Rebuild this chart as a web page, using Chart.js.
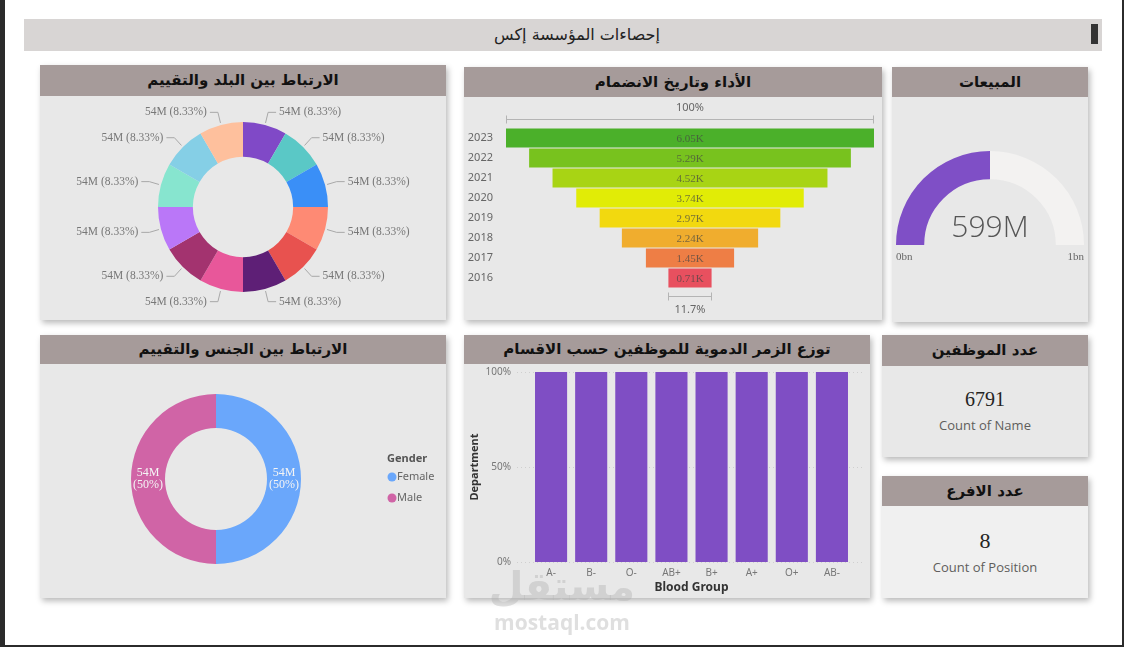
<!DOCTYPE html>
<html>
<head>
<meta charset="utf-8">
<script src="https://cdn.jsdelivr.net/npm/chart.js@4.4.0/dist/chart.umd.min.js"></script>
<style>
html, body { margin: 0; padding: 0; }
body { width: 1126px; height: 647px; position: relative; overflow: hidden; background: #fff; font-family: "DejaVu Sans", sans-serif; }
.frame { position: absolute; left: 0; top: 0; width: 1117px; height: 645px; border-left: 5px solid #2b2b2b; border-right: 2px solid #2b2b2b; border-bottom: 2px solid #2b2b2b; }
.titlebar { position: absolute; left: 24px; top: 19px; width: 1078px; height: 32px; background: #d8d5d4; }
.titlebar .txt { position: absolute; left: 14px; width: 1078px; text-align: center; line-height: 32px; font-size: 16px; color: #222; direction: rtl; }
.titlebar .mark { position: absolute; left: 1067px; top: 5px; width: 7px; height: 20px; background: #333; }
.panel { position: absolute; background: #e8e8e8; box-shadow: 2px 3px 6px rgba(0,0,0,0.28); }
.head { background: #a69b9a; text-align: center; font-weight: bold; font-size: 15px; color: #111; direction: rtl; }
canvas { display: block; }
.big { text-align: center; font-family: "Liberation Serif", serif; color: #252423; }
.sub { text-align: center; font-family: "Open Sans", sans-serif; font-size: 13px; color: #605e5c; }
.wm { position: absolute; left: 462px; width: 200px; text-align: center; color: rgba(175,175,175,0.4); font-weight: bold; z-index: 5; }
</style>
</head>
<body>
<div class="frame"></div>
<div class="titlebar"><div class="txt">إحصاءات المؤسسة إكس</div><div class="mark"></div></div>

<div class="panel" style="left:40px;top:65px;width:406px;height:255px">
  <div class="head" style="height:31px;line-height:31px">الارتباط بين البلد والتقييم</div>
  <canvas id="countryChart" width="406" height="224"></canvas>
</div>

<div class="panel" style="left:464px;top:67px;width:418px;height:253px">
  <div class="head" style="height:30px;line-height:30px">الأداء وتاريخ الانضمام</div>
  <canvas id="funnelChart" width="418" height="223"></canvas>
</div>

<div class="panel" style="left:892px;top:67px;width:196px;height:255px">
  <div class="head" style="height:30px;line-height:30px">المبيعات</div>
  <canvas id="salesChart" width="196" height="225"></canvas>
</div>

<div class="panel" style="left:40px;top:335px;width:406px;height:263px">
  <div class="head" style="height:29px;line-height:29px">الارتباط بين الجنس والتقييم</div>
  <canvas id="genderChart" width="406" height="234"></canvas>
</div>

<div class="panel" style="left:464px;top:335px;width:406px;height:263px">
  <div class="head" style="height:29px;line-height:29px">توزع الزمر الدموية للموظفين حسب الاقسام</div>
  <canvas id="bloodChart" width="406" height="234"></canvas>
</div>

<div class="panel" style="left:882px;top:335px;width:206px;height:122px">
  <div class="head" style="height:31px;line-height:31px">عدد الموظفين</div>
  <div class="big" id="employeeCount" style="font-size:20px;margin-top:22px">0</div>
  <div class="sub" style="margin-top:5px">Count of Name</div>
</div>

<div class="panel" style="left:882px;top:476px;width:206px;height:122px;background:#f0f0f0">
  <div class="head" style="height:30px;line-height:30px">عدد الافرع</div>
  <div class="big" id="branchCount" style="font-size:22px;margin-top:22px">0</div>
  <div class="sub" style="margin-top:4px">Count of Position</div>
</div>

<div class="wm" style="top:562px;font-size:40px;line-height:48px">مستقل</div>
<div class="wm" style="top:609px;font-family:'Open Sans',sans-serif;font-size:21px;line-height:26px">mostaql.com</div>

<script>
// country / rating donut
var countryNames = ['C1', 'C2', 'C3', 'C4', 'C5', 'C6', 'C7', 'C8', 'C9', 'C10', 'C11', 'C12'];
var countryValues = [54, 54, 54, 54, 54, 54, 54, 54, 54, 54, 54, 54];
var countryColors = ['#8049c7', '#5ac8c6', '#3a8ff7', '#fe8a74', '#e8524f', '#5e1f76',
  '#e8579a', '#a3336f', '#ba77f8', '#87e5cf', '#85cfe6', '#fec09d'];

// funnel: joining year
var joinYears = ['2023', '2022', '2021', '2020', '2019', '2018', '2017', '2016'];
var joinCounts = [6050, 5290, 4520, 3740, 2970, 2240, 1450, 710];
var funnelColors = ['#4bb02a', '#78c21e', '#a8d414', '#e1ec06', '#f2d90f', '#f0ad2e', '#ee7e45', '#e8505f'];

// sales gauge (millions)
var salesValue = 599;
var salesMin = 0;
var salesMax = 1198;

// gender donut
var genderLabels = ['Female', 'Male'];
var genderValues = [54, 54];
var genderColors = ['#6aa7fb', '#d064a6'];

// blood groups
var bloodGroups = ['A-', 'B-', 'O-', 'AB+', 'B+', 'A+', 'O+', 'AB-'];
var bloodShare = [100, 100, 100, 100, 100, 100, 100, 100];
var bloodTicks = [0, 50, 100];

// cards
var employeeCount = 6791;
var branchCount = 8;

Chart.defaults.animation = false;
Chart.defaults.plugins.legend.display = false;
Chart.defaults.plugins.tooltip.enabled = false;
Chart.defaults.font.family = '"Noto Sans", sans-serif';

function sum(arr) {
	return arr.reduce(function(a, b) { return a + b; }, 0);
}

var outsideLabels = {
	id: 'outsideLabels',
	afterDatasetsDraw: function(chart) {
		var ctx = chart.ctx;
		var meta = chart.getDatasetMeta(0);
		var total = sum(countryValues);
		ctx.save();
		ctx.font = '11.5px "Liberation Serif", serif';
		ctx.strokeStyle = '#a8a8a8';
		ctx.fillStyle = '#777';
		ctx.lineWidth = 1;
		ctx.textBaseline = 'middle';
		meta.data.forEach(function(arc, i) {
			var p = arc.getProps(['x', 'y', 'startAngle', 'endAngle', 'outerRadius']);
			var mid = (p.startAngle + p.endAngle) / 2;
			var cos = Math.cos(mid), sin = Math.sin(mid);
			var x0 = p.x + cos * (p.outerRadius + 2), y0 = p.y + sin * (p.outerRadius + 2);
			var x1 = p.x + cos * (p.outerRadius + 12), y1 = p.y + sin * (p.outerRadius + 13);
			var right = cos >= 0;
			var x2 = x1 + (right ? 8 : -8);
			ctx.beginPath();
			ctx.moveTo(x0, y0);
			ctx.lineTo(x1, y1);
			ctx.lineTo(x2, y1);
			ctx.stroke();
			ctx.textAlign = right ? 'left' : 'right';
			var txt = countryValues[i] + 'M (' + (countryValues[i] / total * 100).toFixed(2) + '%)';
			ctx.fillText(txt, x2 + (right ? 3 : -3), y1);
		});
		ctx.restore();
	}
};

new Chart(document.getElementById('countryChart'), {
	type: 'doughnut',
	data: {
		labels: countryNames,
		datasets: [{ data: countryValues, backgroundColor: countryColors, borderWidth: 0 }]
	},
	options: {
		responsive: false,
		cutout: '59%',
		layout: { padding: { left: 118, right: 118, top: 26, bottom: 28 } }
	},
	plugins: [outsideLabels]
});

var funnelLabels = {
	id: 'funnelLabels',
	afterDatasetsDraw: function(chart) {
		var ctx = chart.ctx;
		var meta = chart.getDatasetMeta(0);
		var xs = chart.scales.x;
		var cx = xs.getPixelForValue(0);
		ctx.save();
		ctx.textAlign = 'center';
		ctx.textBaseline = 'middle';
		ctx.font = '11px "Liberation Serif", serif';
		ctx.fillStyle = 'rgba(70,70,70,0.7)';
		meta.data.forEach(function(bar, i) {
			ctx.fillText((joinCounts[i] / 1000).toFixed(2) + 'K', cx, bar.y + 1);
		});

		var first = joinCounts[0], last = joinCounts[joinCounts.length - 1];
		var b0 = meta.data[0], b1 = meta.data[meta.data.length - 1];
		ctx.strokeStyle = '#b4b4b4';
		ctx.lineWidth = 1;
		function bracket(v, y) {
			var l = Math.round(xs.getPixelForValue(-v / 2)) + 0.5;
			var r = Math.round(xs.getPixelForValue(v / 2)) - 0.5;
			y = Math.round(y) + 0.5;
			ctx.beginPath();
			ctx.moveTo(l, y); ctx.lineTo(r, y);
			ctx.moveTo(l, y - 4); ctx.lineTo(l, y + 4);
			ctx.moveTo(r, y - 4); ctx.lineTo(r, y + 4);
			ctx.stroke();
		}
		bracket(first, b0.y - 19);
		bracket(last, b1.y + 18);
		ctx.font = '11px "Noto Sans", sans-serif';
		ctx.fillStyle = '#666';
		ctx.fillText('100%', cx, b0.y - 30);
		ctx.fillText((last / first * 100).toFixed(1) + '%', cx, b1.y + 32);
		ctx.restore();
	}
};

var funnelMax = Math.max.apply(null, joinCounts);
new Chart(document.getElementById('funnelChart'), {
	type: 'bar',
	data: {
		labels: joinYears,
		datasets: [{
			data: joinCounts.map(function(v) { return [-v / 2, v / 2]; }),
			backgroundColor: funnelColors,
			barPercentage: 0.95,
			categoryPercentage: 1
		}]
	},
	options: {
		indexAxis: 'y',
		responsive: false,
		layout: { padding: { left: 0, right: 8, top: 31, bottom: 32 } },
		scales: {
			x: { display: false, min: -funnelMax / 2, max: funnelMax / 2 },
			y: {
				grid: { display: false, drawTicks: false },
				border: { display: false },
				ticks: { padding: 13, color: '#666', font: { size: 11 } },
				afterFit: function(s) { s.width = 42; }
			}
		}
	},
	plugins: [funnelLabels]
});

var gaugeText = {
	id: 'gaugeText',
	afterDatasetsDraw: function(chart) {
		var ctx = chart.ctx;
		var arc = chart.getDatasetMeta(0).data[0];
		var p = arc.getProps(['x', 'y', 'outerRadius']);
		ctx.save();
		ctx.textAlign = 'center';
		ctx.textBaseline = 'middle';
		ctx.fillStyle = '#555';
		ctx.font = '300 30px "Open Sans", sans-serif';
		ctx.fillText(salesValue + 'M', p.x, p.y - 17);
		ctx.font = '11px "Liberation Serif", serif';
		ctx.fillStyle = '#666';
		ctx.textAlign = 'left';
		ctx.fillText((salesMin / 1000).toFixed(0) + 'bn', p.x - p.outerRadius, p.y + 12);
		ctx.textAlign = 'right';
		ctx.fillText((salesMax / 1000).toFixed(0) + 'bn', p.x + p.outerRadius, p.y + 12);
		ctx.restore();
	}
};

new Chart(document.getElementById('salesChart'), {
	type: 'doughnut',
	data: {
		labels: ['Sales', ''],
		datasets: [{
			data: [salesValue - salesMin, salesMax - salesValue],
			backgroundColor: ['#7f4fc6', '#f3f2f1'],
			borderWidth: 0
		}]
	},
	options: {
		responsive: false,
		rotation: -90,
		circumference: 180,
		cutout: '70%',
		layout: { padding: { left: 4, right: 4, top: 54, bottom: 77 } }
	},
	plugins: [gaugeText]
});

var genderExtras = {
	id: 'genderExtras',
	afterDatasetsDraw: function(chart) {
		var ctx = chart.ctx;
		var meta = chart.getDatasetMeta(0);
		var total = sum(genderValues);
		ctx.save();
		ctx.textAlign = 'center';
		ctx.textBaseline = 'middle';
		ctx.font = '12px "Liberation Serif", serif';
		ctx.fillStyle = '#f4f4f4';
		meta.data.forEach(function(arc, i) {
			var p = arc.getProps(['x', 'y', 'startAngle', 'endAngle', 'innerRadius', 'outerRadius']);
			var mid = (p.startAngle + p.endAngle) / 2;
			var r = (p.innerRadius + p.outerRadius) / 2;
			var x = p.x + Math.cos(mid) * r, y = p.y + Math.sin(mid) * r;
			ctx.fillText(genderValues[i] + 'M', x, y - 6);
			ctx.fillText('(' + Math.round(genderValues[i] / total * 100) + '%)', x, y + 6);
		});
		// legend
		ctx.textAlign = 'left';
		ctx.font = 'bold 11px "Noto Sans", sans-serif';
		ctx.fillStyle = '#555';
		ctx.fillText('Gender', 347, 95);
		ctx.font = '11px "Noto Sans", sans-serif';
		genderLabels.forEach(function(lbl, i) {
			var y = 113 + i * 21;
			ctx.fillStyle = genderColors[i];
			ctx.beginPath();
			ctx.arc(352, y, 4.5, 0, Math.PI * 2);
			ctx.fill();
			ctx.fillStyle = '#666';
			ctx.fillText(lbl, 357, y);
		});
		ctx.restore();
	}
};

new Chart(document.getElementById('genderChart'), {
	type: 'doughnut',
	data: {
		labels: genderLabels,
		datasets: [{ data: genderValues, backgroundColor: genderColors, borderWidth: 0 }]
	},
	options: {
		responsive: false,
		cutout: '60%',
		layout: { padding: { left: 91, right: 145, top: 30, bottom: 34 } }
	},
	plugins: [genderExtras]
});

// dotted grid and the y tick labels, placed off the y scale
var bloodAxis = {
	id: 'bloodAxis',
	beforeDatasetsDraw: function(chart) {
		var ctx = chart.ctx;
		var ys = chart.scales.y;
		ctx.save();
		ctx.strokeStyle = '#cfcfcf';
		ctx.setLineDash([1, 3]);
		ctx.font = '10px "Noto Sans", sans-serif';
		ctx.fillStyle = '#777';
		ctx.textAlign = 'right';
		ctx.textBaseline = 'middle';
		bloodTicks.forEach(function(v) {
			var y = Math.round(ys.getPixelForValue(v)) + 0.5;
			ctx.beginPath();
			ctx.moveTo(53, y);
			ctx.lineTo(398, y);
			ctx.stroke();
			ctx.fillText(v + '%', 47, y);
		});
		ctx.restore();
	}
};

new Chart(document.getElementById('bloodChart'), {
	type: 'bar',
	data: {
		labels: bloodGroups,
		datasets: [{ data: bloodShare, backgroundColor: '#7f4ec4', barPercentage: 1, categoryPercentage: 0.8 }]
	},
	options: {
		responsive: false,
		layout: { padding: { left: 0, right: 18, top: 8, bottom: 0 } },
		scales: {
			x: {
				grid: { display: false, drawTicks: false },
				border: { display: false },
				ticks: { padding: 5, color: '#777', font: { size: 10 } },
				title: { display: true, text: 'Blood Group', color: '#333', font: { size: 12, weight: 'bold' }, padding: { top: 2, bottom: 3 } },
				afterFit: function(s) { s.height = 36; }
			},
			y: {
				min: 0, max: 100,
				grid: { display: false, drawTicks: false },
				border: { display: false },
				ticks: { display: false },
				title: { display: true, text: 'Department', color: '#333', font: { size: 11, weight: 'bold' }, padding: { top: 4, bottom: 0 } },
				afterFit: function(s) { s.width = 67; }
			}
		}
	},
	plugins: [bloodAxis]
});

document.getElementById('employeeCount').textContent = employeeCount;
document.getElementById('branchCount').textContent = branchCount;
</script>
</body>
</html>
